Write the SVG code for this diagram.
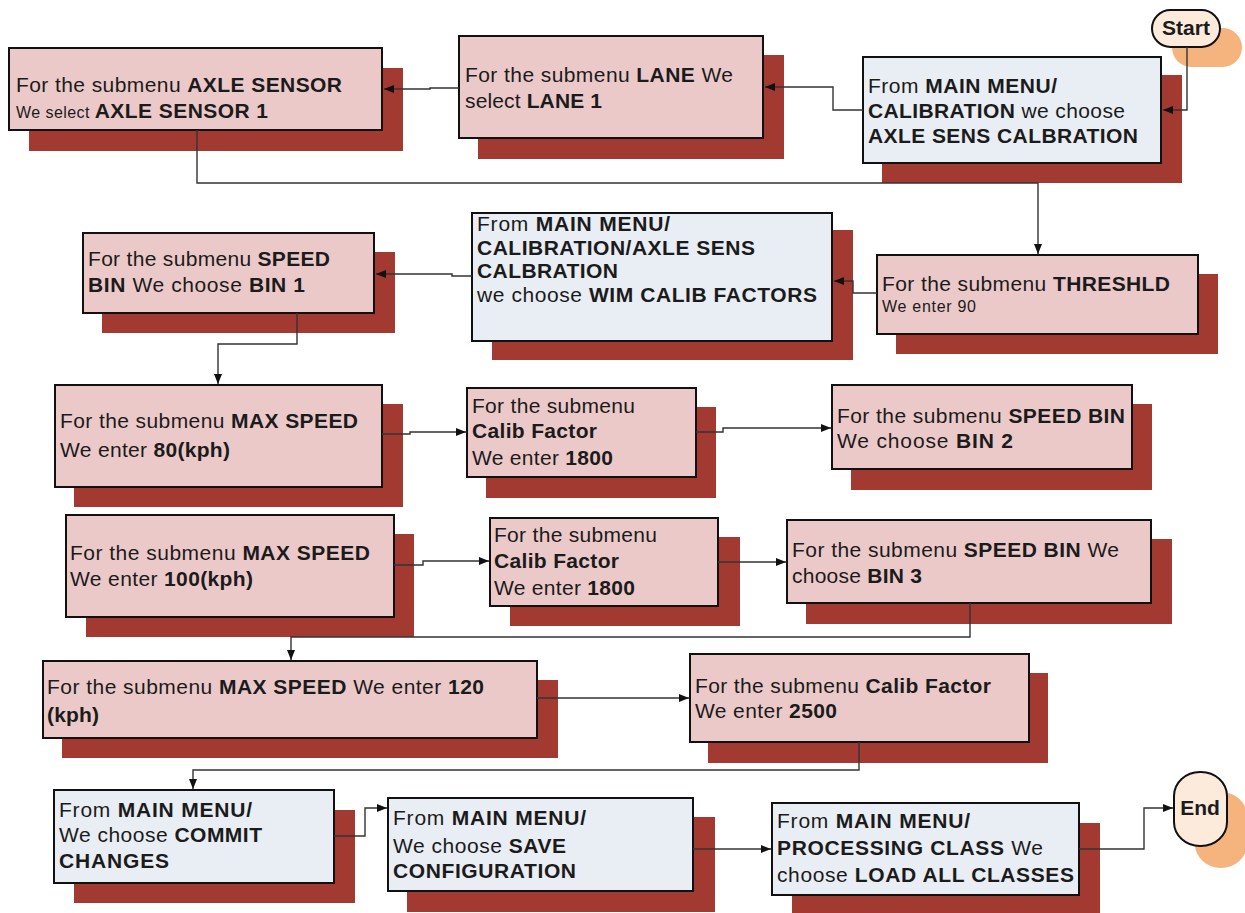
<svg xmlns="http://www.w3.org/2000/svg" width="1245" height="913" viewBox="0 0 1245 913">
<style>
.sh{fill:#A23A32}
.bp{fill:#ECC9C9;stroke:#111;stroke-width:2}
.bb{fill:#E9EEF4;stroke:#111;stroke-width:2}
.term{fill:#FCEADB;stroke:#111;stroke-width:2}
.osh{fill:#F5B47E}
text{font-family:"Liberation Sans",Arial,sans-serif;font-size:21px;fill:#1b1b1b}
.b{font-weight:bold}
.s{font-size:16px}
.conn{fill:none;stroke:#333;stroke-width:1.4}
</style>
<defs>
<marker id="ah" markerUnits="userSpaceOnUse" markerWidth="10" markerHeight="10" viewBox="0 0 10 10" refX="10" refY="5" orient="auto">
<path d="M0,1 L10,5 L0,9 Z" fill="#111"/>
</marker>
</defs>
<rect width="1245" height="913" fill="#fff"/>

<g id="start">
<rect class="osh" x="1172" y="28" width="70" height="39" rx="19.5"/>
<rect class="term" x="1152" y="10" width="68" height="37" rx="18.5"/>
<text class="b" x="1186" y="35" text-anchor="middle" font-size="18">Start</text>
</g>

<g id="axle-sensor">
<rect class="sh" x="29" y="68" width="374" height="83"/>
<rect class="bp" x="9" y="48" width="373" height="82"/>
<text x="16" y="92" textLength="326">For the submenu <tspan class="b">AXLE SENSOR</tspan></text>
<text x="16" y="118" textLength="252"><tspan class="s">We select </tspan><tspan class="b">AXLE SENSOR 1</tspan></text>
</g>

<g id="lane">
<rect class="sh" x="478" y="55" width="306" height="104"/>
<rect class="bp" x="459" y="36" width="304" height="102"/>
<text x="465" y="82" textLength="268">For the submenu <tspan class="b">LANE</tspan> We</text>
<text x="465" y="108" textLength="137">select <tspan class="b">LANE 1</tspan></text>
</g>

<g id="axle-calib">
<rect class="sh" x="882" y="75" width="300" height="108"/>
<rect class="bb" x="863" y="57" width="298" height="106"/>
<text x="868" y="93" textLength="189">From <tspan class="b">MAIN MENU/</tspan></text>
<text x="868" y="118" textLength="257"><tspan class="b">CALIBRATION</tspan> we choose</text>
<text x="868" y="143" textLength="270" class="b">AXLE SENS CALBRATION</text>
</g>

<g id="threshld">
<rect class="sh" x="896" y="274" width="322" height="80"/>
<rect class="bp" x="877" y="255" width="321" height="79"/>
<text x="882" y="291" textLength="288">For the submenu <tspan class="b">THRESHLD</tspan></text>
<text x="882" y="312" class="s" textLength="94">We enter 90</text>
</g>

<g id="wim-calib">
<rect class="sh" x="492" y="230" width="361" height="130"/>
<rect class="bb" x="472" y="213" width="360" height="128"/>
<text x="477" y="231" textLength="193">From <tspan class="b">MAIN MENU/</tspan></text>
<text x="477" y="255" textLength="278" class="b">CALIBRATION/AXLE SENS</text>
<text x="477" y="278" textLength="141" class="b">CALBRATION</text>
<text x="477" y="302" textLength="340">we choose <tspan class="b">WIM CALIB FACTORS</tspan></text>
</g>

<g id="speed-bin-1">
<rect class="sh" x="102" y="252" width="293" height="81"/>
<rect class="bp" x="83" y="233" width="291" height="80"/>
<text x="88" y="266" textLength="242">For the submenu <tspan class="b">SPEED</tspan></text>
<text x="88" y="292" textLength="217"><tspan class="b">BIN</tspan> We choose <tspan class="b">BIN  1</tspan></text>
</g>

<g id="max-speed-80">
<rect class="sh" x="74" y="404" width="329" height="103"/>
<rect class="bp" x="55" y="385" width="327" height="102"/>
<text x="60" y="428" textLength="298">For the submenu <tspan class="b">MAX SPEED</tspan></text>
<text x="60" y="457" textLength="170">We enter <tspan class="b">80(kph)</tspan></text>
</g>

<g id="calib-1800-a">
<rect class="sh" x="486" y="407" width="230" height="91"/>
<rect class="bp" x="467" y="388" width="229" height="89"/>
<text x="472" y="413" textLength="163">For the submenu</text>
<text x="472" y="438" textLength="125" class="b">Calib Factor</text>
<text x="472" y="465" textLength="141">We enter <tspan class="b">1800</tspan></text>
</g>

<g id="speed-bin-2">
<rect class="sh" x="851" y="404" width="301" height="86"/>
<rect class="bp" x="832" y="385" width="300" height="84"/>
<text x="837" y="423" textLength="288">For the submenu <tspan class="b">SPEED BIN</tspan></text>
<text x="837" y="448" textLength="176">We choose <tspan class="b">BIN  2</tspan></text>
</g>

<g id="max-speed-100">
<rect class="sh" x="86" y="534" width="328" height="103"/>
<rect class="bp" x="66" y="515" width="328" height="102"/>
<text x="70" y="560" textLength="300">For the submenu <tspan class="b">MAX SPEED</tspan></text>
<text x="70" y="586" textLength="183">We enter <tspan class="b">100(kph)</tspan></text>
</g>

<g id="calib-1800-b">
<rect class="sh" x="510" y="537" width="230" height="89"/>
<rect class="bp" x="490" y="518" width="228" height="88"/>
<text x="494" y="542" textLength="163">For the submenu</text>
<text x="494" y="568" textLength="125" class="b">Calib Factor</text>
<text x="494" y="595" textLength="141">We enter <tspan class="b">1800</tspan></text>
</g>

<g id="speed-bin-3">
<rect class="sh" x="806" y="539" width="366" height="85"/>
<rect class="bp" x="787" y="520" width="364" height="83"/>
<text x="792" y="557" textLength="327">For the submenu <tspan class="b">SPEED BIN</tspan> We</text>
<text x="792" y="583" textLength="130">choose <tspan class="b">BIN 3</tspan></text>
</g>

<g id="max-speed-120">
<rect class="sh" x="62" y="680" width="496" height="78"/>
<rect class="bp" x="43" y="661" width="494" height="77"/>
<text x="47" y="694" textLength="437">For the submenu <tspan class="b">MAX SPEED</tspan> We enter <tspan class="b">120</tspan></text>
<text x="47" y="722" textLength="52" class="b">(kph)</text>
</g>

<g id="calib-2500">
<rect class="sh" x="708" y="673" width="340" height="90"/>
<rect class="bp" x="690" y="654" width="339" height="88"/>
<text x="695" y="693" textLength="296">For the submenu <tspan class="b">Calib Factor</tspan></text>
<text x="695" y="718" textLength="142">We enter <tspan class="b">2500</tspan></text>
</g>

<g id="commit">
<rect class="sh" x="74" y="810" width="281" height="93"/>
<rect class="bb" x="54" y="790" width="280" height="93"/>
<text x="59" y="817" textLength="193">From <tspan class="b">MAIN MENU/</tspan></text>
<text x="59" y="842" textLength="203">We choose <tspan class="b">COMMIT</tspan></text>
<text x="59" y="868" textLength="110" class="b">CHANGES</text>
</g>

<g id="save">
<rect class="sh" x="407" y="817" width="308" height="95"/>
<rect class="bb" x="388" y="798" width="305" height="93"/>
<text x="393" y="825" textLength="193">From <tspan class="b">MAIN MENU/</tspan></text>
<text x="393" y="853" textLength="173">We choose <tspan class="b">SAVE</tspan></text>
<text x="393" y="878" textLength="183" class="b">CONFIGURATION</text>
</g>

<g id="load-classes">
<rect class="sh" x="792" y="823" width="308" height="90"/>
<rect class="bb" x="772" y="803" width="307" height="92"/>
<text x="777" y="828" textLength="193">From <tspan class="b">MAIN MENU/</tspan></text>
<text x="777" y="855" textLength="266"><tspan class="b">PROCESSING CLASS</tspan> We</text>
<text x="777" y="882" textLength="297">choose <tspan class="b">LOAD ALL CLASSES</tspan></text>
</g>

<g id="end">
<rect class="osh" x="1195" y="792" width="52" height="76" rx="26" ry="24"/>
<rect class="term" x="1174" y="772" width="53" height="74" rx="26" ry="24"/>
<text class="b" x="1200" y="815" text-anchor="middle" font-size="18">End</text>
</g>

<g id="connectors" class="conn" marker-end="url(#ah)">
<path class="conn" marker-end="url(#ah)" d="M1187,47 V110 H1163"/>
<path class="conn" marker-end="url(#ah)" d="M863,110 H833 V87 H765"/>
<path class="conn" marker-end="url(#ah)" d="M459,88 H430 V89 H384"/>
<path class="conn" marker-end="url(#ah)" d="M197,130 V183 H1038 V254"/>
<path class="conn" marker-end="url(#ah)" d="M877,293 H853 V281 H834"/>
<path class="conn" marker-end="url(#ah)" d="M472,276 H452 V274 H376"/>
<path class="conn" marker-end="url(#ah)" d="M297,313 V344 H218 V384"/>
<path class="conn" marker-end="url(#ah)" d="M382,434 H410 V432 H466"/>
<path class="conn" marker-end="url(#ah)" d="M696,432 H723 V428 H831"/>
<path class="conn" marker-end="url(#ah)" d="M394,565 H423 V561 H489"/>
<path class="conn" marker-end="url(#ah)" d="M718,562 H786"/>
<path class="conn" marker-end="url(#ah)" d="M970,603 V637 H291 V660"/>
<path class="conn" marker-end="url(#ah)" d="M537,698 H689"/>
<path class="conn" marker-end="url(#ah)" d="M859,742 V770 H193 V789"/>
<path class="conn" marker-end="url(#ah)" d="M334,836 H365 V808 H387"/>
<path class="conn" marker-end="url(#ah)" d="M693,849 H771"/>
<path class="conn" marker-end="url(#ah)" d="M1079,849 H1144 V808 H1173"/>
</g>
</svg>
